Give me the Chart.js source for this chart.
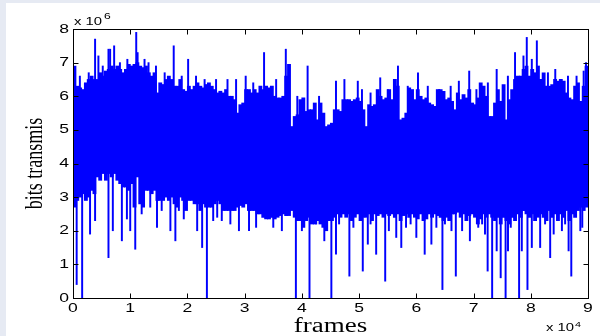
<!DOCTYPE html>
<html>
<head>
<meta charset="utf-8">
<script src="https://cdn.jsdelivr.net/npm/chart.js@4/dist/chart.umd.min.js"></script>
<style>
  html, body { margin: 0; padding: 0; background: #e6eaf3; }
  #chart { display: block; }
</style>
</head>
<body>
<canvas id="chart" width="600" height="336"></canvas>
<script>
// bits transmitted (x 10^6), body of the trace, one bin per 500 frames
const hiBody = [
  6.9, 6.3, 6.25, 6.2, 6.4, 6.5, 6.6, 6.5, 6.5, 6.7,
  6.6, 6.75, 6.8, 6.9, 6.8, 6.9, 6.8, 6.7, 6.8, 6.95,
  6.9, 6.95, 7.0, 6.9, 6.85, 6.9, 6.7, 6.6, 6.7, 6.1,
  6.4, 6.35, 6.5, 6.6, 6.5, 6.3, 6.3, 6.5, 6.2, 6.15,
  6.3, 6.2, 6.3, 6.4, 6.3, 6.25, 6.35, 6.4, 6.3, 6.2,
  6.1, 6.15, 6.1, 6.2, 6.0, 6.0, 5.9, 5.5, 5.75, 5.8,
  6.2, 6.2, 6.1, 6.2, 6.1, 6.3, 6.2, 6.3, 6.25, 6.3,
  6.0, 5.95, 5.95, 6.0, 6.6, 6.95, 5.1, 5.4, 5.45, 5.9,
  5.95, 5.55, 5.6, 5.6, 5.8, 5.3, 5.8, 5.5, 5.1, 5.15,
  5.2, 5.6, 5.6, 5.55, 5.9, 5.9, 5.9, 5.85, 5.9, 5.95,
  5.85, 5.6, 5.1, 5.75, 5.7, 5.75, 6.2, 6.0, 5.9, 5.95,
  6.2, 5.9, 6.5, 6.3, 5.3, 5.35, 5.5, 6.25, 6.2, 5.9,
  6.2, 6.0, 5.9, 5.95, 5.8, 5.75, 5.7, 6.2, 6.2, 6.15,
  5.9, 5.95, 5.85, 5.6, 6.1, 5.9, 6.05, 5.95, 6.2, 5.8,
  5.75, 5.95, 6.4, 6.3, 6.0, 5.4, 5.4, 5.8, 6.2, 5.85,
  6.35, 5.3, 5.9, 6.2, 6.5, 6.6, 6.6, 6.8, 6.9, 6.6,
  6.8, 6.7, 6.9, 6.5, 6.7, 6.3, 6.3, 6.35, 6.5, 6.45,
  6.5, 6.45, 6.1, 5.95, 5.9, 6.3, 6.4, 5.85, 6.3, 6.9
];
const loBody = [
  2.7, 2.9, 3.0, 3.1, 2.9, 3.0, 3.2, 3.1, 3.6, 3.5,
  3.7, 3.5, 3.7, 3.6, 3.7, 3.5, 3.4, 3.3, 3.3, 3.2,
  3.4, 2.7, 3.6, 2.8, 2.7, 3.2, 3.2, 3.1, 3.2, 2.9,
  2.9, 2.9, 3.0, 2.9, 3.0, 2.8, 2.7, 3.0, 2.9, 2.6,
  2.9, 2.9, 2.8, 2.8, 2.6, 2.8, 2.7, 2.7, 2.7, 2.8,
  2.9, 2.8, 2.6, 2.6, 2.6, 2.6, 2.6, 2.7, 2.75, 2.7,
  2.8, 2.6, 2.6, 2.6, 2.5, 2.5, 2.4, 2.35, 2.35, 2.4,
  2.35, 2.4, 2.45, 2.5, 2.45, 2.45, 2.6, 2.4, 2.3, 2.3,
  2.1, 2.3, 2.4, 2.2, 2.2, 2.3, 2.2, 2.1, 2.0, 2.3,
  2.3, 2.4, 2.5, 2.4, 2.5, 2.4, 2.5, 2.3, 2.4, 2.5,
  2.3, 2.4, 2.4, 2.5, 2.3, 2.5, 2.45, 2.5, 2.4, 2.5,
  2.45, 2.5, 2.4, 2.5, 2.3, 2.45, 2.5, 2.4, 2.5, 2.4,
  2.35, 2.5, 2.3, 2.35, 2.5, 2.4, 2.5, 2.45, 2.4, 2.3,
  2.4, 2.3, 2.5, 2.5, 2.55, 2.4, 2.5, 2.3, 2.45, 2.5,
  2.4, 2.2, 2.35, 2.5, 2.4, 2.5, 2.4, 2.3, 2.4, 2.2,
  2.4, 2.3, 2.2, 2.4, 2.3, 2.5, 2.4, 2.6, 2.5, 2.4,
  2.5, 2.3, 2.4, 2.5, 2.4, 2.3, 2.6, 2.4, 2.5, 2.3,
  2.5, 2.4, 2.6, 2.3, 2.5, 2.4, 2.6, 2.7, 2.6, 2.7
];
const BIN = 500;

// isolated peaks above the body
const upSpikeFrames = [1200, 2750, 3860, 4440, 5200, 6200, 6490, 7190, 8200, 9500,
  11050, 11290, 12500, 13200, 14500, 16020, 17600, 19000, 20120, 21500,
  23000, 25000, 27000, 28500, 30180, 31500, 33390, 35500, 37190, 39200,
  41000, 43000, 45960, 47430, 49770, 50500, 52000, 53690, 55000, 56790,
  58500, 60290, 62000, 64000, 66000, 67430, 69240, 70500, 72500, 74040,
  76000, 77250, 78720, 79300, 80180, 81060, 83000, 84280, 86500, 88000,
  89240, 89650];
const upSpikeValues = [6.6, 6.7, 7.7, 7.2, 6.9, 7.4, 7.4, 7.5, 7.0, 7.1,
  7.9, 7.3, 7.1, 7.0, 6.9, 6.7, 7.5, 6.6, 7.1, 6.6,
  6.5, 6.5, 6.5, 6.5, 6.6, 6.4, 7.3, 6.5, 7.4, 6.0,
  6.9, 6.0, 6.45, 6.5, 6.45, 6.2, 6.1, 6.55, 6.2, 6.9,
  6.3, 6.7, 6.3, 6.2, 6.3, 6.45, 6.75, 6.2, 6.4, 6.8,
  6.6, 7.3, 7.2, 7.75, 7.1, 7.65, 6.7, 6.8, 6.6, 6.6,
  6.75, 7.0];

// isolated drops below the body
const downSpikeFrames = [640, 1600, 2980, 3860, 6200, 6960, 8540, 9420, 10000, 10880,
  12000, 13500, 14680, 15500, 17020, 17890, 18500, 19360, 21700, 22570,
  23400, 24500, 25200, 26000, 27500, 29000, 30760, 32000, 35000, 36500,
  38950, 40000, 41330, 42500, 43920, 45150, 45960, 46500, 48300, 49000,
  50640, 51520, 52000, 52980, 54560, 55200, 56490, 57370, 58200, 59000,
  60000, 61460, 62630, 63500, 64560, 65000, 66140, 66900, 68000, 69360,
  70820, 71500, 72000, 72460, 73250, 74040, 74740, 75600, 76020, 76500,
  77960, 78430, 79420, 80180, 81640, 82500, 83390, 84000, 85440, 86000,
  86610, 87080, 88660, 89000];
const downSpikeValues = [0.4, 0, 1.9, 2.3, 1.2, 2.0, 1.7, 2.35, 2.0, 1.45,
  2.5, 2.7, 2.1, 2.6, 2.0, 1.7, 2.6, 2.35, 2.0, 1.5,
  0, 2.3, 2.4, 2.3, 2.2, 2.0, 2.0, 2.1, 2.1, 2.0,
  0, 2.0, 0, 2.2, 1.7, 0, 1.3, 2.2, 0.65, 2.1,
  0.8, 1.6, 2.2, 1.3, 0.5, 2.0, 1.8, 1.5, 2.1, 2.2,
  1.8, 1.3, 1.6, 2.1, 0.25, 2.2, 2.0, 0.65, 2.0, 1.7,
  2.1, 2.2, 1.9, 0.8, 0, 1.4, 0.6, 0, 1.4, 2.1,
  0, 1.4, 0.25, 1.5, 1.5, 2.2, 1.2, 1.9, 2.0, 2.2,
  1.4, 0.65, 2.0, 2.1];

const xTickValues = [0, 1, 2, 3, 4, 5, 6, 7, 8, 9];   // x 10^4 frames
const yTickValues = [0, 1, 2, 3, 4, 5, 6, 7, 8];      // x 10^6 bits

const BLUE = '#0000ff';
const STRETCH = 1.35; // glyphs in the reference are drawn wide

function wideText(ctx, str, x, y, font, align, baseline) {
    ctx.save();
    ctx.translate(x, y);
    ctx.scale(STRETCH, 1);
    ctx.font = font;
    ctx.textAlign = align;
    ctx.textBaseline = baseline;
    ctx.fillText(str, 0, 0);
    ctx.restore();
}

const matlabFrame = {
    id: 'matlabFrame',
    beforeDraw(chart) {
        const ctx = chart.ctx;
        ctx.save();
        ctx.fillStyle = '#e6eaf3';
        ctx.fillRect(0, 0, 600, 336);
        ctx.fillStyle = '#ffffff';
        ctx.fillRect(6, 3, 594, 333);
        ctx.restore();
    },
    afterDraw(chart) {
        const ctx = chart.ctx;
        const a = chart.chartArea;
        const xs = chart.scales.x, ys = chart.scales.y;
        const L = Math.round(a.left) + 0.5, R = Math.round(a.right) + 0.5;
        const T = Math.round(a.top) + 0.5, B = Math.round(a.bottom) + 0.5;
        ctx.save();
        ctx.strokeStyle = '#000';
        ctx.lineWidth = 1;
        ctx.strokeRect(L, T, R - L, B - T);
        ctx.beginPath();
        xTickValues.forEach(v => {
            const px = Math.round(xs.getPixelForValue(v * 10000)) + 0.5;
            ctx.moveTo(px, B); ctx.lineTo(px, B - 5);
            ctx.moveTo(px, T); ctx.lineTo(px, T + 5);
        });
        yTickValues.forEach(v => {
            const py = Math.round(ys.getPixelForValue(v)) + 0.5;
            ctx.moveTo(L, py); ctx.lineTo(L + 5, py);
            ctx.moveTo(R, py); ctx.lineTo(R - 5, py);
        });
        ctx.stroke();

        ctx.fillStyle = '#000';
        const tickFont = '13px "Liberation Sans", Arial, sans-serif';
        xTickValues.forEach(v => {
            wideText(ctx, String(v), xs.getPixelForValue(v * 10000), 308, tickFont, 'center', 'middle');
        });
        yTickValues.forEach(v => {
            wideText(ctx, String(v), 69, ys.getPixelForValue(v), tickFont, 'right', 'middle');
        });

        // exponents
        wideText(ctx, 'x 10', 74, 25, '11px "Liberation Sans", Arial, sans-serif', 'left', 'alphabetic');
        wideText(ctx, '6', 104, 18.5, '9px "Liberation Sans", Arial, sans-serif', 'left', 'alphabetic');
        wideText(ctx, 'x 10', 546, 330.5, '11px "Liberation Sans", Arial, sans-serif', 'left', 'alphabetic');
        wideText(ctx, '4', 575, 327, '8px "Liberation Sans", Arial, sans-serif', 'left', 'alphabetic');

        // axis titles
        wideText(ctx, 'frames', (a.left + a.right) / 2, 331.5, '20px "Liberation Serif", "Times New Roman", serif', 'center', 'alphabetic');
        ctx.save();
        ctx.translate(42, (a.top + a.bottom) / 2);
        ctx.scale(STRETCH, 1);
        ctx.rotate(-Math.PI / 2);
        ctx.font = '18px "Liberation Serif", "Times New Roman", serif';
        ctx.textAlign = 'center';
        ctx.textBaseline = 'alphabetic';
        ctx.fillText('bits transmis', 0, 0);
        ctx.restore();
        ctx.restore();
    }
};

const bodyData = hiBody.map((h, i) => ({ x: i * BIN + BIN / 2, y: [loBody[i], h] }));
const upData = upSpikeFrames.map((f, i) => ({ x: f, y: [5.0, upSpikeValues[i]] }));
const downData = downSpikeFrames.map((f, i) => ({ x: f, y: [downSpikeValues[i], 4.0] }));

const ctx = document.getElementById('chart').getContext('2d');
new Chart(ctx, {
    type: 'bar',
    data: {
        datasets: [
            { data: bodyData, backgroundColor: BLUE, barThickness: 3.2, stack: 'all' },
            { data: upData, backgroundColor: BLUE, barThickness: 1.3, stack: 'all' },
            { data: downData, backgroundColor: BLUE, barThickness: 1.3, stack: 'all' }
        ]
    },
    options: {
        responsive: false,
        animation: false,
        devicePixelRatio: 1,
        layout: { padding: { left: 73, top: 29, right: 12, bottom: 38 } },
        plugins: { legend: { display: false }, tooltip: { enabled: false } },
        elements: { bar: { borderWidth: 0 } },
        scales: {
            x: { type: 'linear', min: 0, max: 90000, offset: false, display: false },
            y: { min: 0, max: 8, stacked: false, display: false }
        }
    },
    plugins: [matlabFrame]
});
</script>
</body>
</html>
